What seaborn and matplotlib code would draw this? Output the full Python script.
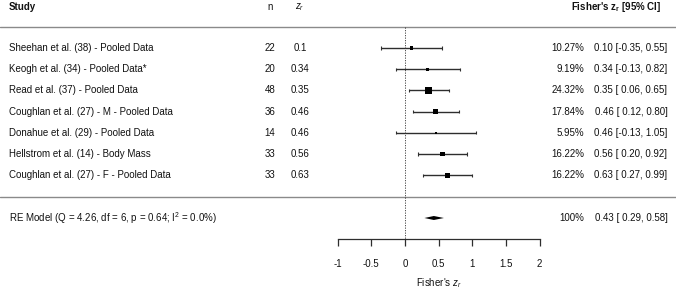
import matplotlib
matplotlib.use("Agg")
import matplotlib.pyplot as plt
import seaborn as sns
import pandas as pd
import numpy as np

# ---------------- data ----------------
studies = [
    "Sheehan et al. (38) - Pooled Data",
    "Keogh et al. (34) - Pooled Data*",
    "Read et al. (37) - Pooled Data",
    "Coughlan et al. (27) - M - Pooled Data",
    "Donahue et al. (29) - Pooled Data",
    "Hellstrom et al. (14) - Body Mass",
    "Coughlan et al. (27) - F - Pooled Data",
]
n_vals = [22, 20, 48, 36, 14, 33, 33]
zr = [0.10, 0.34, 0.35, 0.46, 0.46, 0.56, 0.63]
ci_lo = [-0.35, -0.13, 0.06, 0.12, -0.13, 0.20, 0.27]
ci_hi = [0.55, 0.82, 0.65, 0.80, 1.05, 0.92, 0.99]
weights = [10.27, 9.19, 24.32, 17.84, 5.95, 16.22, 16.22]

re_est, re_lo, re_hi = 0.43, 0.29, 0.58
re_label = r"RE Model (Q = 4.26, df = 6, p = 0.64; I$^2$ = 0.0%)"
x_ticks = [-1, -0.5, 0, 0.5, 1, 1.5, 2]
x_ticklabels = ["-1", "-0.5", "0", "0.5", "1", "1.5", "2"]

df = pd.DataFrame({"study": studies, "n": n_vals, "zr": zr,
                   "lo": ci_lo, "hi": ci_hi, "w": weights})

# ---------------- style ----------------
sns.set_theme(style="white")
plt.rcParams["font.family"] = ["Liberation Sans", "DejaVu Sans"]
plt.rcParams["mathtext.fontset"] = "custom"
plt.rcParams["mathtext.rm"] = "Liberation Sans"
plt.rcParams["mathtext.it"] = "Liberation Sans:italic"
plt.rcParams["mathtext.bf"] = "Liberation Sans:bold"

W, H, DPI = 676, 292, 100
fig = plt.figure(figsize=(W / DPI, H / DPI), dpi=DPI)
ax = fig.add_axes([0, 0, 1, 1])

# pixel layout helpers
X0PIX, UNIT = 404.9, 67.3          # pixel of x=0 and pixels per unit
def px(xp):
    return (xp - X0PIX) / UNIT

ax.set_xlim(px(0), px(W))
ax.set_ylim(H, 0)
ax.axis("off")

FS = 7.0
TXT = "#111111"
LINEC = "#2e2e2e"

row0, dy = 48.0, 21.2
df["y"] = row0 + dy * np.arange(len(df))
y_line1, y_line2, y_re = 26.5, 197.0, 218.0
y_head = 7.0
y_axis = 238.5

# separators
ax.axhline(y_line1, color="#8a8a8a", lw=1.0)
ax.axhline(y_line2, color="#8a8a8a", lw=1.0)
# reference line at 0
ax.vlines(0, y_line1, y_axis, color="#333333", lw=0.6, linestyles=(0, (1.5, 1.5)))

# CIs
cap = 1.6
ax.hlines(df["y"], df["lo"], df["hi"], color=LINEC, lw=1.0)
ax.vlines(df["lo"], df["y"] - cap, df["y"] + cap, color=LINEC, lw=0.8)
ax.vlines(df["hi"], df["y"] - cap, df["y"] + cap, color=LINEC, lw=0.8)

# squares sized by weight
wmin, wmax = df["w"].min(), df["w"].max()
side_px = 2.3 + 4.4 * (df["w"] - wmin) / (wmax - wmin)
df["s"] = (side_px * 72 / DPI) ** 2
sns.scatterplot(data=df, x="zr", y="y", size="s", sizes=(df["s"].min(), df["s"].max()),
                marker="s", color="black", edgecolor="none", legend=False, ax=ax, zorder=5)

# summary diamond
dh = 2.0
ax.fill([re_lo, re_est, re_hi, re_est], [y_re, y_re - dh, y_re, y_re + dh],
        color="black", lw=0)

# text columns
for _, r in df.iterrows():
    ax.text(px(9), r["y"], r["study"], fontsize=FS, color=TXT, va="center", ha="left")
    ax.text(px(270), r["y"], f"{r['n']}", fontsize=FS, color=TXT, va="center", ha="center")
    ax.text(px(300), r["y"], f"{r['zr']:g}", fontsize=FS, color=TXT, va="center", ha="center")
    ax.text(px(584.5), r["y"], f"{r['w']:.2f}%", fontsize=FS, color=TXT, va="center", ha="right")
    ax.text(px(667.5), r["y"], f"{r['zr']:.2f} [{r['lo']:5.2f}, {r['hi']:.2f}]",
            fontsize=FS, color=TXT, va="center", ha="right")

ax.text(px(9), y_re, re_label, fontsize=FS, color=TXT, va="center", ha="left")
ax.text(px(584.5), y_re, "100%", fontsize=FS, color=TXT, va="center", ha="right")
ax.text(px(667.5), y_re, f"{re_est:.2f} [{re_lo:5.2f}, {re_hi:.2f}]",
        fontsize=FS, color=TXT, va="center", ha="right")

# headers
ax.text(px(9), y_head, "Study", fontsize=FS, fontweight="bold", color=TXT, va="center", ha="left")
ax.text(px(270), y_head, "n", fontsize=FS, color=TXT, va="center", ha="center")
ax.text(px(300), y_head, r"$z_r$", fontsize=FS, color=TXT, va="center", ha="center")
ax.text(px(661), y_head, r"Fisher's $\mathbf{z_r}$ [95% CI]", fontsize=FS,
        fontweight="bold", color=TXT, va="center", ha="right")

# x axis (real axis) at the bottom
left_px = X0PIX + UNIT * x_ticks[0]
right_px = X0PIX + UNIT * x_ticks[-1]
ax2 = fig.add_axes([left_px / W, (H - y_axis) / H, (right_px - left_px) / W, 0.001])
ax2.set_xlim(x_ticks[0], x_ticks[-1])
ax2.set_facecolor("none")
for s in ["top", "left", "right"]:
    ax2.spines[s].set_visible(False)
ax2.spines["bottom"].set_color(LINEC)
ax2.spines["bottom"].set_linewidth(0.9)
ax2.set_yticks([])
ax2.set_xticks(x_ticks)
ax2.set_xticklabels(x_ticklabels)
ax2.tick_params(axis="x", direction="out", length=5, width=0.9, color=LINEC,
                labelsize=FS, labelcolor=TXT, pad=9.5, bottom=True)
ax2.set_xlabel(r"Fisher's $z_r$", fontsize=FS, color=TXT, labelpad=5.5)

fig.savefig("out.png", dpi=DPI)
